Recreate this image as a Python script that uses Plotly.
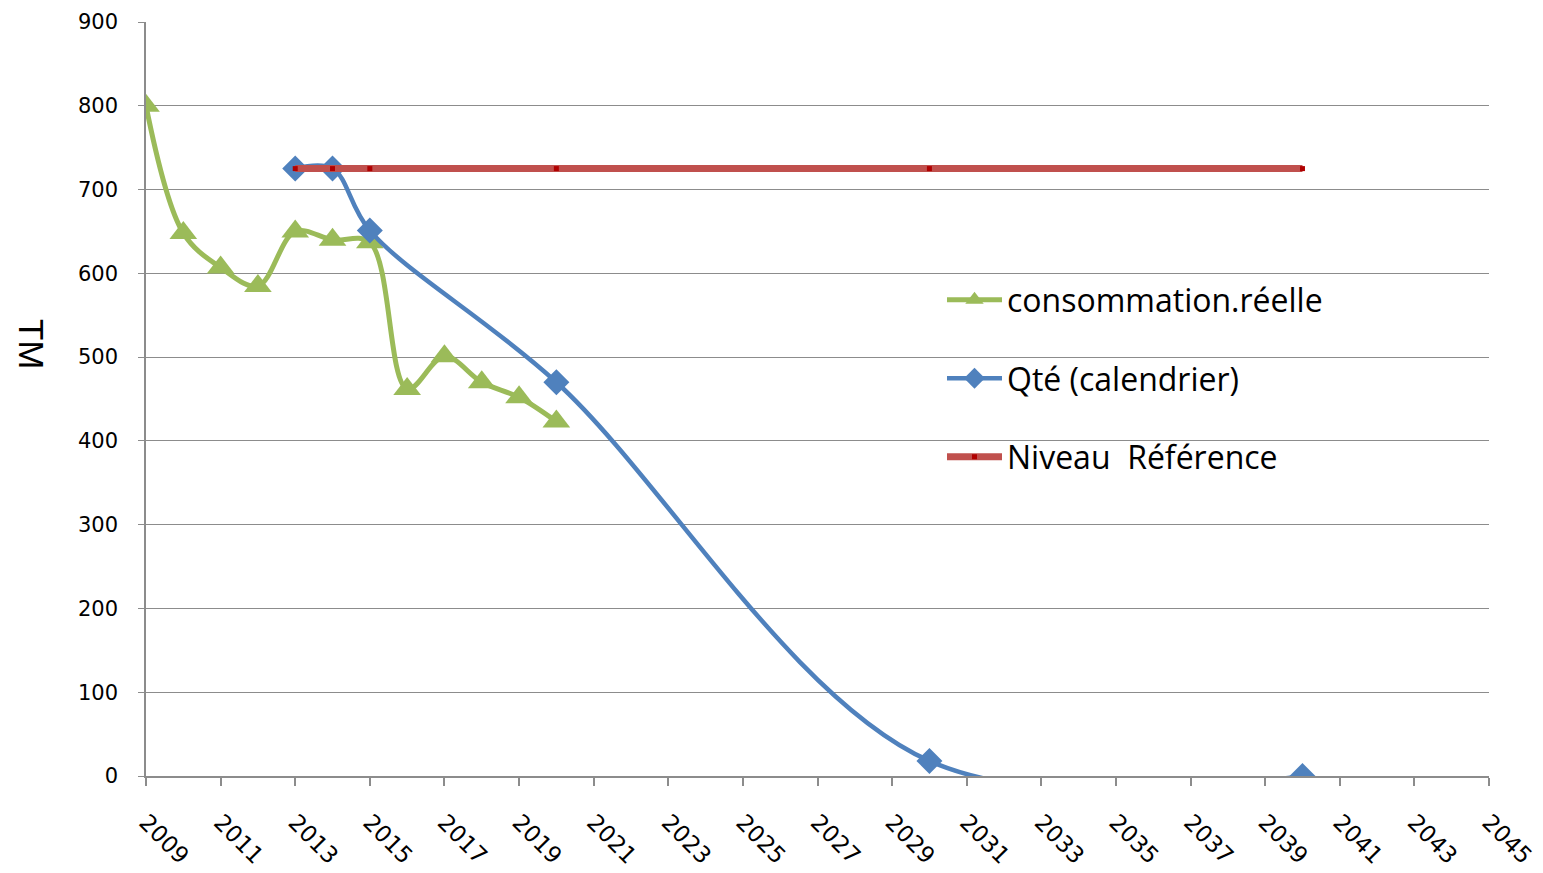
import plotly.graph_objects as go

years_conso = [2009, 2010, 2011, 2012, 2013, 2014, 2015, 2016, 2017, 2018, 2019, 2020]
conso = [800, 648, 607, 585, 650, 640, 637, 462, 501, 470, 452, 423]

years_cal = [2013, 2014, 2015, 2020, 2030, 2040]
cal = [725, 725, 651, 470, 18, 0]

years_ref = [2013, 2014, 2015, 2020, 2030, 2040]
ref = [725, 725, 725, 725, 725, 725]

names = ["consommation.réelle", "Qté (calendrier)", "Niveau  Référence"]
y_title = "TM"

GREEN = "#9BBB59"
BLUE = "#4F81BD"
RED = "#C0504D"
GRID = "#8C8C8C"

fig = go.Figure()
fig.add_trace(go.Scatter(
    x=years_conso, y=conso, name=names[0], legendgroup="g1",
    mode="lines+markers",
    line=dict(color=GREEN, width=5, shape="spline", smoothing=1),
    marker=dict(symbol="triangle-up", size=24, color=GREEN),
))
fig.add_trace(go.Scatter(
    x=years_cal, y=cal, name=names[1], legendgroup="g2",
    mode="lines+markers",
    line=dict(color=BLUE, width=4.5, shape="spline", smoothing=1),
    marker=dict(symbol="diamond", size=20, color=BLUE),
))
fig.add_trace(go.Scatter(
    x=years_ref, y=ref, name=names[2], legendgroup="g3",
    mode="lines+markers",
    line=dict(color=RED, width=7),
    marker=dict(symbol="square", size=5, color="#B00000"),
))

fig.update_layout(
    width=1543, height=873,
    margin=dict(l=138, r=62, t=14, b=105, autoexpand=False),
    paper_bgcolor="white", plot_bgcolor="white",
    font=dict(family="DejaVu Sans", color="black"),
    showlegend=True,
    legend=dict(
        x=0.5927, y=0.668, xanchor="left", yanchor="top",
        font=dict(family="Open Sans", size=32, color="black"),
        itemwidth=55, tracegroupgap=34, traceorder="grouped",
        bgcolor="rgba(0,0,0,0)",
    ),
    xaxis=dict(
        range=[2009, 2045], tick0=2009, dtick=2, tickmode="linear",
        tickangle=45, tickfont=dict(size=23, family="DejaVu Sans"),
        showgrid=False, showline=True, linecolor=GRID, linewidth=1.5,
        ticks="outside", ticklen=8, tickcolor=GRID, tickwidth=1.5,
        ticklabelstandoff=14, zeroline=False, automargin=False,
    ),
    yaxis=dict(
        range=[0, 900], dtick=100, tick0=0,
        tickfont=dict(size=21, family="DejaVu Sans"),
        showgrid=True, gridcolor=GRID, gridwidth=1.2,
        showline=True, linecolor=GRID, linewidth=1.5,
        ticks="outside", ticklen=6, tickcolor=GRID,
        ticklabelstandoff=16, zeroline=False, automargin=False,
    ),
    annotations=[dict(
        text=y_title, xref="paper", yref="paper", x=-0.0856, y=0.573,
        xanchor="center", yanchor="middle",
        showarrow=False, textangle=90,
        font=dict(family="Liberation Sans", size=35, color="black"),
    )],
)

fig.write_html("out.html")
